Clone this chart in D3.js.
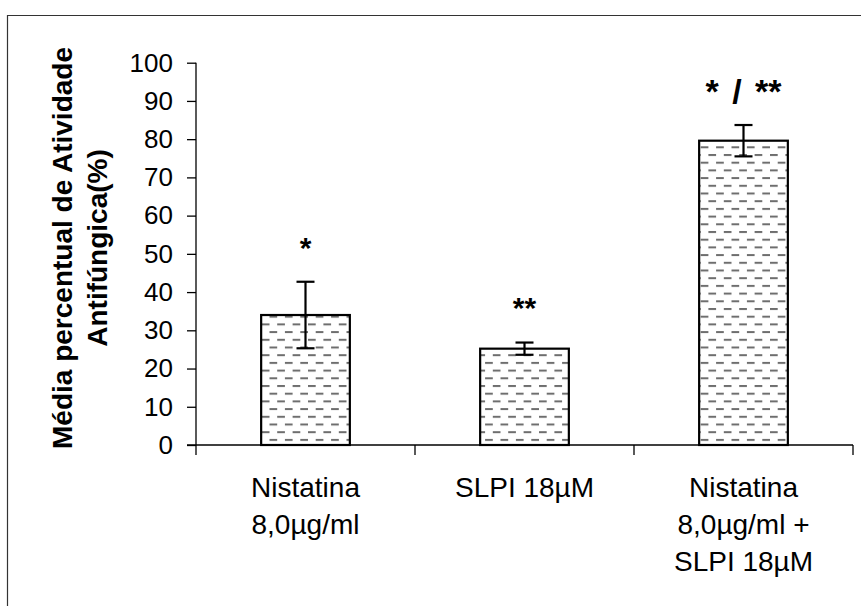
<!DOCTYPE html>
<html>
<head>
<meta charset="utf-8">
<script src="https://cdn.jsdelivr.net/npm/d3@7"></script>
<style>
  html, body { margin: 0; padding: 0; background: #fff; }
  svg { display: block; }
  text { font-family: Arial, "Liberation Sans", sans-serif; fill: #000; }
</style>
</head>
<body>
<svg id="chart" width="861" height="606"></svg>
<script>
"use strict";

// chart data
var categories = [
  ["Nistatina", "8,0µg/ml"],
  ["SLPI 18µM"],
  ["Nistatina", "8,0µg/ml +", "SLPI 18µM"]
];
var means = [34, 25.2, 79.6];
var errors = [8.7, 1.6, 4.1];
var signifLabels = ["*", "**", "* / **"];
var yTicks = [0, 10, 20, 30, 40, 50, 60, 70, 80, 90, 100];
var yTitleLines = ["Média percentual de Atividade", "Antifúngica(%)"];

var svg = d3.select("#chart");

var plot = { left: 196, right: 853, top: 62.7, bottom: 445 };

var x = d3.scaleBand()
  .domain(d3.range(categories.length))
  .range([plot.left, plot.right])
  .paddingInner(0).paddingOuter(0);

var y = d3.scaleLinear()
  .domain([0, 100])
  .range([plot.bottom, plot.top]);

// outer frame (only top and left edges show in the picture)
svg.append("path")
  .attr("d", "M7.5,606 V15.5 H861")
  .attr("fill", "none")
  .attr("stroke", "#333")
  .attr("stroke-width", 1.2);

// dashed fill pattern
var defs = svg.append("defs");
var pat = defs.append("pattern")
  .attr("id", "dashFill")
  .attr("patternUnits", "userSpaceOnUse")
  .attr("width", 15.4)
  .attr("height", 15.4);
pat.append("rect").attr("width", 15.4).attr("height", 15.4).attr("fill", "#fff");
pat.append("rect").attr("x", 0).attr("y", 0).attr("width", 7.7).attr("height", 2).attr("fill", "#6e6e6e");
pat.append("rect").attr("x", 7.7).attr("y", 7.7).attr("width", 7.7).attr("height", 2).attr("fill", "#6e6e6e");

// y axis
var yAxis = d3.axisLeft(y).tickValues(yTicks).tickSize(9).tickPadding(14);
var gy = svg.append("g")
  .attr("transform", "translate(" + plot.left + ",0)")
  .call(yAxis);
gy.select(".domain").remove();
gy.append("line")
  .attr("x1", 0).attr("x2", 0)
  .attr("y1", plot.top).attr("y2", plot.bottom + 10)
  .attr("stroke", "#000").attr("stroke-width", 1.3);
gy.selectAll(".tick line").attr("stroke", "#000").attr("stroke-width", 1.3);
gy.selectAll(".tick text")
  .style("font-size", "26px")
  .style("font-family", "Arial, 'Liberation Sans', sans-serif");

// x axis with ticks at category boundaries
var gx = svg.append("g").attr("class", "x-axis");
gx.append("line")
  .attr("x1", plot.left - 9).attr("x2", plot.right)
  .attr("y1", plot.bottom).attr("y2", plot.bottom)
  .attr("stroke", "#000").attr("stroke-width", 1.3);
gx.selectAll("line.boundary")
  .data(d3.range(1, categories.length + 1))
  .enter()
  .append("line")
  .attr("class", "boundary")
  .attr("x1", function (d) { return x(d - 1) + x.bandwidth(); })
  .attr("x2", function (d) { return x(d - 1) + x.bandwidth(); })
  .attr("y1", plot.bottom).attr("y2", plot.bottom + 10)
  .attr("stroke", "#000").attr("stroke-width", 1.3);

// category labels
gx.selectAll("text.cat")
  .data(categories)
  .enter()
  .append("text")
  .attr("class", "cat")
  .attr("text-anchor", "middle")
  .style("font-size", "28px")
  .each(function (lines, i) {
    var t = d3.select(this);
    lines.forEach(function (line, j) {
      t.append("tspan")
        .attr("x", x(i) + x.bandwidth() / 2)
        .attr("y", plot.bottom + 52 + j * 37)
        .text(line);
    });
  });

// bars
var BAR_WIDTH = x.bandwidth() * 0.405;
svg.append("g").selectAll("rect.bar")
  .data(means)
  .enter()
  .append("rect")
  .attr("class", "bar")
  .attr("x", function (d, i) { return x(i) + (x.bandwidth() - BAR_WIDTH) / 2; })
  .attr("y", function (d) { return y(d); })
  .attr("width", BAR_WIDTH)
  .attr("height", function (d) { return y(0) - y(d); })
  .attr("fill", "url(#dashFill)")
  .attr("stroke", "#000")
  .attr("stroke-width", 2.2);

// error bars
var CAP = 9;
var ge = svg.append("g").attr("stroke", "#000").attr("stroke-width", 2.2);
means.forEach(function (m, i) {
  var cx = x(i) + x.bandwidth() / 2;
  var lo = y(m - errors[i]), hi = y(m + errors[i]);
  ge.append("line").attr("x1", cx).attr("x2", cx).attr("y1", lo).attr("y2", hi);
  ge.append("line").attr("x1", cx - CAP).attr("x2", cx + CAP).attr("y1", lo).attr("y2", lo);
  ge.append("line").attr("x1", cx - CAP).attr("x2", cx + CAP).attr("y1", hi).attr("y2", hi);
});

// significance marks above the error bars
svg.append("g").selectAll("text.sig")
  .data(signifLabels)
  .enter()
  .append("text")
  .attr("class", "sig")
  .attr("text-anchor", "middle")
  .attr("x", function (d, i) { return x(i) + x.bandwidth() / 2; })
  .attr("y", function (d, i) {
    var size = d.length > 2 ? 34 : 30;
    return y(means[i] + errors[i]) - 41 + 0.56 * size;
  })
  .style("font-size", function (d) { return (d.length > 2 ? 34 : 30) + "px"; })
  .style("font-weight", "bold")
  .style("word-spacing", function (d) { return d.length > 2 ? "4px" : "0px"; })
  .text(function (d) { return d; });

// y axis title
var yMid = 248;
svg.append("g").selectAll("text.ytitle")
  .data(yTitleLines)
  .enter()
  .append("text")
  .attr("class", "ytitle")
  .attr("text-anchor", "middle")
  .attr("transform", function (d, i) { return "translate(" + (72 + i * 35) + "," + yMid + ") rotate(-90)"; })
  .style("font-size", "28px")
  .style("font-weight", "bold")
  .text(function (d) { return d; });
</script>
</body>
</html>
